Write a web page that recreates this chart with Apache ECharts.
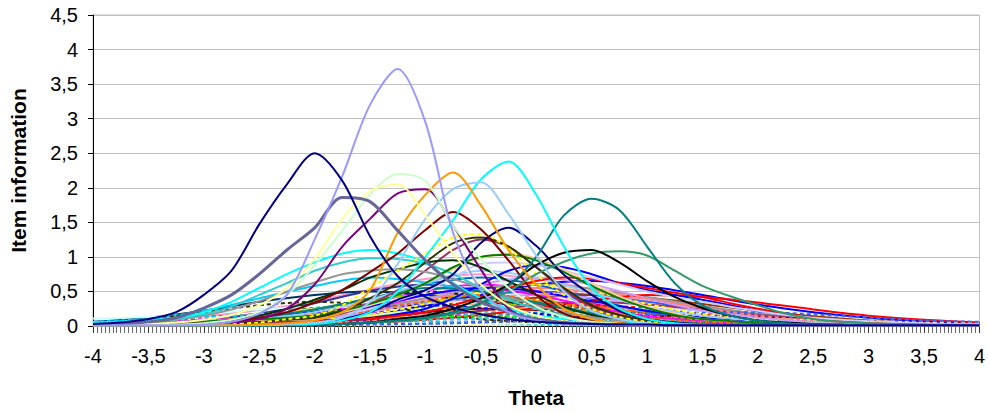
<!DOCTYPE html>
<html>
<head>
<meta charset="utf-8">
<script src="https://cdn.jsdelivr.net/npm/echarts@6/dist/echarts.min.js"></script>
<style>
  html, body { margin: 0; padding: 0; background: #fff; }
  #chart { width: 988px; height: 413px; }
</style>
</head>
<body>
<div id="chart"></div>
<script>
// Theta grids (fine grid for the peaked items, coarse grid for the flat ones)
const thetaFine = [-4,-3.75,-3.5,-3.25,-3,-2.75,-2.5,-2.25,-2,-1.75,-1.5,-1.25,-1,-0.75,-0.5,-0.25,0,0.25,0.5,0.75,1,1.25,1.5,1.75,2,2.25,2.5,2.75,3,3.25,3.5,3.75,4];
const thetaCoarse = [-4,-3.5,-3,-2.5,-2,-1.5,-1,-0.5,0,0.5,1,1.5,2,2.5,3,3.5,4];

// Axis tick values
const yTicks = [0,0.5,1,1.5,2,2.5,3,3.5,4,4.5];
const xTicks = [-4,-3.5,-3,-2.5,-2,-1.5,-1,-0.5,0,0.5,1,1.5,2,2.5,3,3.5,4];

// Item information, strongly discriminating items (fine grid)
const item01 = [0.03,0.05,0.1,0.2,0.45,0.8,1.47,2.05,2.5,2.1,1.3,0.72,0.42,0.27,0.17,0.1,0.06,0.04,0.03,0.02,0.02,0.01,0.01,0.01,0.01,0.01,0.01,0.01,0.01,0.01,0.01,0.01,0.01];
const item02 = [0.01,0.01,0.01,0.01,0.02,0.06,0.18,0.45,1.25,2.17,3.2,3.72,2.95,1.35,0.52,0.2,0.08,0.03,0.01,0.01,0.01,0.01,0.01,0.01,0.01,0.01,0.01,0.01,0.01,0.01,0.01,0.01,0.01];
const item03 = [0.02,0.03,0.06,0.12,0.26,0.45,0.75,1.1,1.42,1.86,1.8,1.38,0.95,0.6,0.35,0.2,0.1,0.05,0.03,0.02,0.01,0.01,0.01,0.01,0.01,0.01,0.01,0.01,0.01,0.01,0.01,0.01,0.01];
const item04 = [0.01,0.02,0.03,0.05,0.09,0.16,0.3,0.55,0.97,1.55,1.95,2.05,1.6,1.05,0.6,0.3,0.15,0.07,0.03,0.02,0.01,0.01,0.01,0.01,0.01,0.01,0.01,0.01,0.01,0.01,0.01,0.01,0.01];
const item05 = [0.01,0.01,0.01,0.02,0.04,0.09,0.2,0.45,0.88,1.38,1.9,2.2,2.1,1.45,0.97,0.55,0.28,0.13,0.06,0.03,0.02,0.01,0.01,0.01,0.01,0.01,0.01,0.01,0.01,0.01,0.01,0.01,0.01];
const item06 = [0.01,0.01,0.01,0.01,0.01,0.01,0.02,0.04,0.08,0.2,0.52,1.35,1.9,2.22,1.75,1.1,0.6,0.25,0.1,0.04,0.02,0.01,0.01,0.01,0.01,0.01,0.01,0.01,0.01,0.01,0.01,0.01,0.01];
const item07 = [0.01,0.01,0.01,0.01,0.01,0.01,0.02,0.03,0.05,0.12,0.35,0.9,1.55,1.98,2.08,1.62,1.02,0.5,0.22,0.1,0.04,0.02,0.01,0.01,0.01,0.01,0.01,0.01,0.01,0.01,0.01,0.01,0.01];
const item08 = [0.01,0.01,0.01,0.01,0.02,0.05,0.1,0.25,0.6,1.15,1.55,1.92,1.98,1.45,0.82,0.25,0.08,0.04,0.02,0.01,0.01,0.01,0.01,0.01,0.01,0.01,0.01,0.01,0.01,0.01,0.01,0.01,0.01];
const item09 = [0.01,0.01,0.01,0.01,0.01,0.01,0.01,0.02,0.03,0.08,0.2,0.5,1.0,1.53,2.12,2.38,1.9,1.15,0.55,0.25,0.1,0.04,0.02,0.01,0.01,0.01,0.01,0.01,0.01,0.01,0.01,0.01,0.01];
const item10 = [0.01,0.01,0.01,0.01,0.01,0.01,0.01,0.01,0.02,0.03,0.05,0.08,0.12,0.2,0.33,0.58,1.0,1.6,1.84,1.68,1.15,0.62,0.3,0.15,0.08,0.04,0.02,0.01,0.01,0.01,0.01,0.01,0.01];
const item11 = [0.01,0.01,0.01,0.01,0.01,0.01,0.01,0.01,0.02,0.03,0.05,0.1,0.15,0.25,0.4,0.6,0.88,1.06,1.1,0.92,0.65,0.42,0.26,0.15,0.08,0.05,0.03,0.02,0.01,0.01,0.01,0.01,0.01];
const item12 = [0.01,0.01,0.01,0.01,0.01,0.01,0.01,0.01,0.02,0.03,0.05,0.07,0.11,0.18,0.32,0.5,0.75,0.93,1.05,1.08,1.02,0.8,0.58,0.43,0.3,0.18,0.1,0.06,0.04,0.03,0.02,0.01,0.01];
const item13 = [0.01,0.01,0.02,0.03,0.04,0.07,0.12,0.2,0.34,0.52,0.78,1.05,1.39,1.65,1.4,0.95,0.45,0.18,0.08,0.04,0.02,0.01,0.01,0.01,0.01,0.01,0.01,0.01,0.01,0.01,0.01,0.01,0.01];
const item14 = [0.01,0.01,0.01,0.01,0.01,0.01,0.02,0.03,0.05,0.1,0.2,0.38,0.52,0.75,1.2,1.42,1.16,0.74,0.45,0.22,0.1,0.05,0.02,0.01,0.01,0.01,0.01,0.01,0.01,0.01,0.01,0.01,0.01];
const item15 = [0.01,0.01,0.01,0.01,0.01,0.03,0.05,0.1,0.15,0.3,0.55,0.8,1.05,1.28,1.33,1.12,0.75,0.45,0.25,0.13,0.06,0.03,0.02,0.01,0.01,0.01,0.01,0.01,0.01,0.01,0.01,0.01,0.01];
const item16 = [0.01,0.01,0.01,0.01,0.01,0.04,0.06,0.09,0.12,0.22,0.4,0.62,0.92,1.2,1.28,1.15,0.85,0.55,0.3,0.16,0.08,0.04,0.02,0.01,0.01,0.01,0.01,0.01,0.01,0.01,0.01,0.01,0.01];
const item17 = [0.01,0.02,0.03,0.04,0.06,0.08,0.1,0.12,0.15,0.22,0.32,0.45,0.62,0.85,1.0,1.03,0.95,0.78,0.58,0.4,0.26,0.16,0.1,0.07,0.04,0.03,0.02,0.01,0.01,0.01,0.01,0.01,0.01];
const item18 = [0.05,0.06,0.08,0.12,0.2,0.35,0.55,0.75,0.92,1.05,1.1,1.05,0.92,0.62,0.4,0.25,0.15,0.1,0.07,0.05,0.03,0.02,0.01,0.01,0.01,0.01,0.01,0.01,0.01,0.01,0.01,0.01,0.01];
const item19 = [0.04,0.05,0.07,0.1,0.17,0.28,0.45,0.62,0.8,0.92,0.98,0.97,0.9,0.75,0.55,0.38,0.25,0.15,0.09,0.05,0.03,0.02,0.01,0.01,0.01,0.01,0.01,0.01,0.01,0.01,0.01,0.01,0.01];
const item20 = [0.03,0.04,0.06,0.09,0.15,0.24,0.36,0.5,0.63,0.75,0.8,0.82,0.78,0.68,0.55,0.42,0.3,0.2,0.13,0.08,0.05,0.03,0.02,0.01,0.01,0.01,0.01,0.01,0.01,0.01,0.01,0.01,0.01];
const item21 = [0.01,0.02,0.03,0.04,0.05,0.08,0.15,0.25,0.38,0.52,0.7,0.82,0.92,0.95,0.85,0.65,0.45,0.28,0.16,0.09,0.05,0.03,0.02,0.01,0.01,0.01,0.01,0.01,0.01,0.01,0.01,0.01,0.01];
const item22 = [0.02,0.02,0.03,0.04,0.05,0.07,0.08,0.09,0.1,0.2,0.3,0.45,0.62,0.82,0.98,1.05,0.98,0.82,0.62,0.43,0.28,0.18,0.1,0.07,0.04,0.03,0.02,0.01,0.01,0.01,0.01,0.01,0.01];
const item23 = [0.01,0.01,0.01,0.01,0.01,0.03,0.05,0.07,0.1,0.18,0.32,0.52,0.8,1.1,1.25,1.15,0.85,0.52,0.28,0.14,0.07,0.04,0.02,0.01,0.01,0.01,0.01,0.01,0.01,0.01,0.01,0.01,0.01];
const item24 = [0.01,0.02,0.02,0.03,0.04,0.05,0.06,0.08,0.1,0.17,0.25,0.37,0.5,0.7,0.9,0.92,0.88,0.8,0.7,0.6,0.5,0.42,0.35,0.28,0.22,0.16,0.12,0.09,0.07,0.05,0.04,0.03,0.03];
const item25 = [0.01,0.01,0.01,0.02,0.02,0.03,0.04,0.06,0.08,0.09,0.1,0.15,0.2,0.3,0.42,0.55,0.65,0.7,0.68,0.62,0.55,0.48,0.42,0.33,0.25,0.18,0.12,0.08,0.05,0.04,0.03,0.02,0.02];
const item26 = [0.01,0.01,0.01,0.01,0.02,0.03,0.04,0.06,0.08,0.09,0.1,0.17,0.25,0.4,0.6,0.8,0.88,0.85,0.75,0.62,0.52,0.45,0.38,0.3,0.22,0.16,0.12,0.08,0.06,0.04,0.03,0.02,0.02];

// Item information, weakly discriminating items (coarse grid)
const item27 = [0.01,0.02,0.04,0.09,0.18,0.33,0.51,0.6,0.51,0.33,0.18,0.09,0.04,0.02,0.01,0.01,0.01];
const item28 = [0.05,0.08,0.14,0.23,0.36,0.53,0.68,0.75,0.68,0.53,0.36,0.23,0.14,0.08,0.05,0.03,0.02];
const item29 = [0.02,0.03,0.05,0.09,0.15,0.24,0.35,0.45,0.5,0.45,0.35,0.24,0.15,0.09,0.05,0.03,0.02];
const item30 = [0.02,0.03,0.07,0.14,0.25,0.38,0.45,0.38,0.25,0.14,0.07,0.03,0.02,0.01,0.01,0.01,0.01];
const item31 = [0.03,0.04,0.06,0.12,0.19,0.28,0.36,0.4,0.36,0.28,0.19,0.12,0.07,0.04,0.02,0.01,0.01];
const item32 = [0.01,0.01,0.01,0.02,0.05,0.1,0.19,0.3,0.35,0.3,0.19,0.1,0.05,0.02,0.01,0.01,0.01];
const item33 = [0.06,0.12,0.22,0.35,0.45,0.5,0.45,0.35,0.24,0.15,0.09,0.05,0.03,0.02,0.01,0.01,0.01];
const item34 = [0.01,0.02,0.03,0.05,0.08,0.14,0.22,0.32,0.41,0.45,0.41,0.32,0.22,0.14,0.08,0.05,0.03];
const item35 = [0.02,0.04,0.09,0.18,0.33,0.51,0.6,0.51,0.33,0.18,0.09,0.04,0.02,0.01,0.01,0.01,0.01];
const item36 = [0.02,0.03,0.05,0.08,0.13,0.19,0.28,0.35,0.32,0.25,0.17,0.1,0.06,0.04,0.02,0.01,0.01];
const item37 = [0.02,0.03,0.05,0.1,0.17,0.26,0.39,0.5,0.55,0.5,0.39,0.26,0.17,0.1,0.05,0.03,0.02];
const item38 = [0.01,0.02,0.04,0.1,0.21,0.39,0.6,0.7,0.6,0.39,0.21,0.1,0.04,0.02,0.01,0.01,0.01];
const item39 = [0.11,0.13,0.18,0.24,0.28,0.26,0.21,0.14,0.09,0.05,0.03,0.02,0.01,0.01,0.01,0.01,0.01];
const item40 = [0.05,0.1,0.22,0.4,0.58,0.7,0.63,0.49,0.34,0.21,0.13,0.07,0.04,0.02,0.01,0.01,0.01];
const item41 = [0.01,0.01,0.01,0.01,0.02,0.05,0.09,0.17,0.26,0.3,0.26,0.17,0.09,0.05,0.02,0.01,0.01];
const item42 = [0.02,0.05,0.09,0.17,0.26,0.3,0.26,0.17,0.09,0.05,0.02,0.01,0.01,0.01,0.01,0.01,0.01];
const item43 = [0.01,0.02,0.04,0.06,0.1,0.15,0.3,0.45,0.6,0.65,0.58,0.45,0.31,0.2,0.12,0.07,0.04];
const item44 = [0.02,0.04,0.08,0.12,0.18,0.23,0.25,0.23,0.18,0.12,0.08,0.04,0.02,0.01,0.01,0.01,0.01];
const item45 = [0.02,0.02,0.03,0.04,0.06,0.1,0.14,0.18,0.2,0.18,0.14,0.1,0.06,0.04,0.03,0.02,0.02];
const item46 = [0.01,0.01,0.01,0.02,0.02,0.03,0.05,0.08,0.11,0.14,0.15,0.14,0.11,0.08,0.05,0.03,0.02];
const item47 = [0.01,0.02,0.03,0.05,0.08,0.13,0.2,0.25,0.23,0.18,0.12,0.08,0.05,0.03,0.02,0.01,0.01];
const item48 = [0.05,0.08,0.13,0.17,0.2,0.18,0.14,0.1,0.06,0.04,0.02,0.01,0.01,0.01,0.01,0.01,0.01];
const item49 = [0.02,0.03,0.05,0.08,0.14,0.22,0.32,0.41,0.45,0.41,0.32,0.22,0.14,0.08,0.05,0.03,0.02];
const item50 = [0.04,0.06,0.11,0.17,0.25,0.32,0.35,0.32,0.25,0.17,0.11,0.06,0.04,0.02,0.01,0.01,0.01];
const item51 = [0.01,0.01,0.03,0.06,0.12,0.22,0.34,0.4,0.34,0.22,0.12,0.06,0.03,0.01,0.01,0.01,0.01];
const item52 = [0.01,0.01,0.01,0.02,0.04,0.06,0.1,0.15,0.18,0.2,0.18,0.15,0.1,0.06,0.04,0.02,0.01];
const item53 = [0.03,0.06,0.1,0.15,0.19,0.2,0.18,0.14,0.1,0.06,0.03,0.02,0.01,0.01,0.01,0.01,0.01];
const item54 = [0.02,0.03,0.05,0.09,0.15,0.25,0.4,0.55,0.6,0.54,0.42,0.29,0.18,0.1,0.06,0.03,0.02];
const item55 = [0.01,0.01,0.01,0.01,0.02,0.03,0.05,0.09,0.15,0.21,0.25,0.21,0.15,0.09,0.05,0.03,0.02];
const item56 = [0.01,0.01,0.02,0.04,0.08,0.15,0.25,0.3,0.25,0.15,0.08,0.04,0.02,0.01,0.01,0.01,0.01];
const item57 = [0.01,0.01,0.02,0.03,0.05,0.09,0.15,0.21,0.25,0.22,0.16,0.1,0.06,0.03,0.02,0.01,0.01];
const item58 = [0.01,0.02,0.05,0.1,0.2,0.4,0.5,0.42,0.27,0.13,0.06,0.03,0.01,0.01,0.01,0.01,0.01];
const item59 = [0.01,0.01,0.02,0.03,0.05,0.08,0.14,0.22,0.3,0.35,0.31,0.24,0.16,0.1,0.06,0.03,0.02];
const item60 = [0.04,0.1,0.2,0.3,0.35,0.3,0.2,0.1,0.05,0.02,0.01,0.01,0.01,0.01,0.01,0.01,0.01];
const item61 = [0.01,0.01,0.01,0.02,0.03,0.05,0.09,0.16,0.26,0.37,0.45,0.42,0.34,0.24,0.15,0.09,0.05];
const item62 = [0.01,0.01,0.02,0.03,0.05,0.08,0.12,0.15,0.14,0.11,0.07,0.04,0.02,0.01,0.01,0.01,0.01];
const item63 = [0.02,0.03,0.06,0.12,0.2,0.27,0.3,0.26,0.18,0.1,0.05,0.02,0.01,0.01,0.01,0.01,0.01];
const item64 = [0.01,0.01,0.01,0.01,0.01,0.02,0.03,0.05,0.08,0.11,0.14,0.15,0.13,0.1,0.07,0.04,0.02];
const item65 = [0.06,0.1,0.13,0.15,0.13,0.1,0.07,0.04,0.02,0.01,0.01,0.01,0.01,0.01,0.01,0.01,0.01];
const item66 = [0.01,0.01,0.01,0.01,0.01,0.01,0.02,0.03,0.04,0.06,0.08,0.09,0.1,0.09,0.07,0.05,0.04];
const item67 = [0.01,0.01,0.01,0.01,0.01,0.02,0.03,0.05,0.08,0.12,0.16,0.19,0.2,0.17,0.12,0.08,0.06];
const item68 = [0.01,0.01,0.02,0.03,0.05,0.07,0.09,0.11,0.12,0.11,0.09,0.07,0.05,0.03,0.02,0.01,0.01];
const item69 = [0.01,0.02,0.03,0.06,0.12,0.25,0.45,0.55,0.45,0.28,0.14,0.07,0.03,0.02,0.01,0.01,0.01];
const item70 = [0.01,0.02,0.03,0.05,0.1,0.2,0.38,0.6,0.7,0.6,0.4,0.22,0.12,0.06,0.03,0.02,0.01];
const item71 = [0.01,0.02,0.04,0.08,0.15,0.28,0.45,0.55,0.5,0.36,0.22,0.12,0.06,0.03,0.02,0.01,0.01];
const item72 = [0.01,0.01,0.02,0.04,0.08,0.16,0.32,0.5,0.6,0.5,0.32,0.17,0.08,0.04,0.02,0.01,0.01];
const item73 = [0.01,0.01,0.01,0.02,0.04,0.08,0.16,0.3,0.45,0.5,0.4,0.26,0.15,0.08,0.04,0.02,0.01];
const item74 = [0.02,0.03,0.06,0.12,0.24,0.4,0.55,0.5,0.34,0.18,0.08,0.04,0.02,0.01,0.01,0.01,0.01];
const item75 = [0.02,0.03,0.05,0.1,0.2,0.38,0.62,0.8,0.7,0.48,0.28,0.15,0.08,0.04,0.02,0.01,0.01];
const item76 = [0.01,0.02,0.03,0.06,0.12,0.22,0.36,0.45,0.38,0.24,0.12,0.06,0.03,0.01,0.01,0.01,0.01];

// [values, grid, colour, width, dash]
const curves = [
  [item27, thetaCoarse, '#FF00FF', 2, 'solid'],
  [item28, thetaCoarse, '#FF99CC', 2, 'solid'],
  [item29, thetaCoarse, '#3366FF', 2, 'solid'],
  [item30, thetaCoarse, '#99CC00', 2, 'solid'],
  [item31, thetaCoarse, '#FFCC00', 2, 'solid'],
  [item32, thetaCoarse, '#FF6600', 2, 'solid'],
  [item33, thetaCoarse, '#003366', 2, 'solid'],
  [item34, thetaCoarse, '#993300', 2, 'solid'],
  [item35, thetaCoarse, '#333399', 2, 'solid'],
  [item36, thetaCoarse, '#333333', 2, 'dashed'],
  [item37, thetaCoarse, '#FF8080', 2, 'solid'],
  [item38, thetaCoarse, '#0066CC', 2, 'solid'],
  [item39, thetaCoarse, '#CCFFFF', 2, 'solid'],
  [item40, thetaCoarse, '#00CCFF', 2, 'solid'],
  [item41, thetaCoarse, '#FF0000', 2, 'dashed'],
  [item42, thetaCoarse, '#008000', 2, 'dashed'],
  [item43, thetaCoarse, '#0000FF', 2, 'solid'],
  [item44, thetaCoarse, '#FFFF00', 2, 'dashed'],
  [item45, thetaCoarse, '#00FFFF', 2, 'dashed'],
  [item46, thetaCoarse, '#800080', 2, 'dashed'],
  [item47, thetaCoarse, '#800000', 2, 'solid'],
  [item48, thetaCoarse, '#008080', 2, 'dashed'],
  [item49, thetaCoarse, '#CC99FF', 2, 'solid'],
  [item50, thetaCoarse, '#FFCC99', 2, 'dashed'],
  [item51, thetaCoarse, '#339966', 2, 'dashed'],
  [item52, thetaCoarse, '#666699', 2, 'dashed'],
  [item53, thetaCoarse, '#FF00FF', 2, 'dashed'],
  [item54, thetaCoarse, '#969696', 2, 'solid'],
  [item55, thetaCoarse, '#99CCFF', 2, 'dashed'],
  [item56, thetaCoarse, '#CCFFCC', 2, 'solid'],
  [item57, thetaCoarse, '#FF9900', 2, 'dashed'],
  [item58, thetaCoarse, '#003300', 2, 'dashed'],
  [item59, thetaCoarse, '#993366', 2, 'solid'],
  [item60, thetaCoarse, '#333300', 2, 'dashed'],
  [item61, thetaCoarse, '#FF0000', 2, 'solid'],
  [item62, thetaCoarse, '#00FF00', 2, 'dashed'],
  [item63, thetaCoarse, '#0000FF', 2, 'dashed'],
  [item64, thetaCoarse, '#800000', 2, 'dashed'],
  [item65, thetaCoarse, '#00CCFF', 2, 'dashed'],
  [item66, thetaCoarse, '#FFFF99', 2, 'dashed'],
  [item67, thetaCoarse, '#3366FF', 2, 'dashed'],
  [item68, thetaCoarse, '#33CCCC', 2, 'dashed'],
  [item69, thetaCoarse, '#FF00FF', 2, 'solid'],
  [item70, thetaCoarse, '#CC99FF', 2, 'solid'],
  [item71, thetaCoarse, '#0000FF', 2, 'solid'],
  [item72, thetaCoarse, '#FFFF00', 2, 'dashed'],
  [item73, thetaCoarse, '#FF8080', 2, 'dashed'],
  [item74, thetaCoarse, '#008080', 2, 'solid'],
  [item75, thetaCoarse, '#99CCFF', 2, 'solid'],
  [item76, thetaCoarse, '#FF6600', 2, 'dashed'],
  [item26, thetaFine, '#0000FF', 2, 'solid'],
  [item25, thetaFine, '#FF0000', 2, 'solid'],
  [item24, thetaFine, '#CCCCFF', 2, 'solid'],
  [item23, thetaFine, '#993366', 2, 'solid'],
  [item22, thetaFine, '#FFCC99', 2, 'solid'],
  [item21, thetaFine, '#003300', 2, 'solid'],
  [item20, thetaFine, '#969696', 2, 'solid'],
  [item19, thetaFine, '#33CCCC', 2, 'solid'],
  [item18, thetaFine, '#00FFFF', 2, 'solid'],
  [item17, thetaFine, '#008000', 2, 'solid'],
  [item16, thetaFine, '#333300', 2, 'solid'],
  [item15, thetaFine, '#FFFF00', 2, 'dashed'],
  [item14, thetaFine, '#000080', 2, 'solid'],
  [item13, thetaFine, '#800000', 2, 'solid'],
  [item12, thetaFine, '#339966', 2, 'solid'],
  [item11, thetaFine, '#000000', 2, 'solid'],
  [item10, thetaFine, '#008080', 2, 'solid'],
  [item09, thetaFine, '#00FFFF', 2, 'solid'],
  [item08, thetaFine, '#800080', 2, 'solid'],
  [item07, thetaFine, '#99CCFF', 2, 'solid'],
  [item06, thetaFine, '#FF9900', 2, 'solid'],
  [item05, thetaFine, '#CCFFCC', 2, 'solid'],
  [item04, thetaFine, '#FFFF99', 2, 'solid'],
  [item03, thetaFine, '#666699', 3, 'solid'],
  [item02, thetaFine, '#9999FF', 2, 'solid'],
  [item01, thetaFine, '#000080', 2, 'solid']
];

const comma = v => String(v).replace('.', ',');
const FONT = 'Liberation Sans, Arial, sans-serif';

const series = curves.map(([vals, grid, color, width, dash], k) => ({
  type: 'line',
  name: 'item' + (k + 1),
  data: grid.map((t, i) => [t, vals[i]]),
  showSymbol: false,
  symbol: 'none',
  smooth: 0.3,
  silent: true,
  lineStyle: { color: color, width: width, type: dash === 'dashed' ? [4, 3] : 'solid' }
}));

const chart = echarts.init(document.getElementById('chart'), null, { renderer: 'svg' });
chart.setOption({
  animation: false,
  backgroundColor: '#ffffff',
  grid: { left: 92, right: 4, top: 15, bottom: 87, show: true, borderColor: '#c0c0c0', borderWidth: 1 },
  xAxis: {
    type: 'value',
    min: xTicks[0], max: xTicks[xTicks.length - 1], interval: 0.5,
    name: 'Theta', nameLocation: 'middle', nameGap: 61,
    nameTextStyle: { fontFamily: FONT, fontSize: 21, fontWeight: 'bold', color: '#000' },
    axisLine: { show: true, onZero: false, lineStyle: { color: '#000', width: 1 } },
    axisTick: { show: true, length: 7, lineStyle: { color: '#333' } },
    minorTick: { show: true, splitNumber: 14, length: 7, lineStyle: { color: '#666' } },
    splitLine: { show: false },
    axisLabel: { formatter: comma, fontFamily: FONT, fontSize: 20, color: '#000', margin: 20 }
  },
  yAxis: {
    type: 'value',
    min: yTicks[0], max: yTicks[yTicks.length - 1], interval: 0.5,
    name: 'Item information', nameLocation: 'middle', nameGap: 64, nameRotate: 90,
    nameTextStyle: { fontFamily: FONT, fontSize: 21, fontWeight: 'bold', color: '#000' },
    axisLine: { show: true, onZero: false, lineStyle: { color: '#000', width: 1 } },
    axisTick: { show: true, length: 5, lineStyle: { color: '#000' } },
    splitLine: { show: true, lineStyle: { color: '#c0c0c0', width: 1 } },
    axisLabel: { formatter: comma, fontFamily: FONT, fontSize: 20, color: '#000', margin: 15 }
  },
  series: series
});
</script>
</body>
</html>
